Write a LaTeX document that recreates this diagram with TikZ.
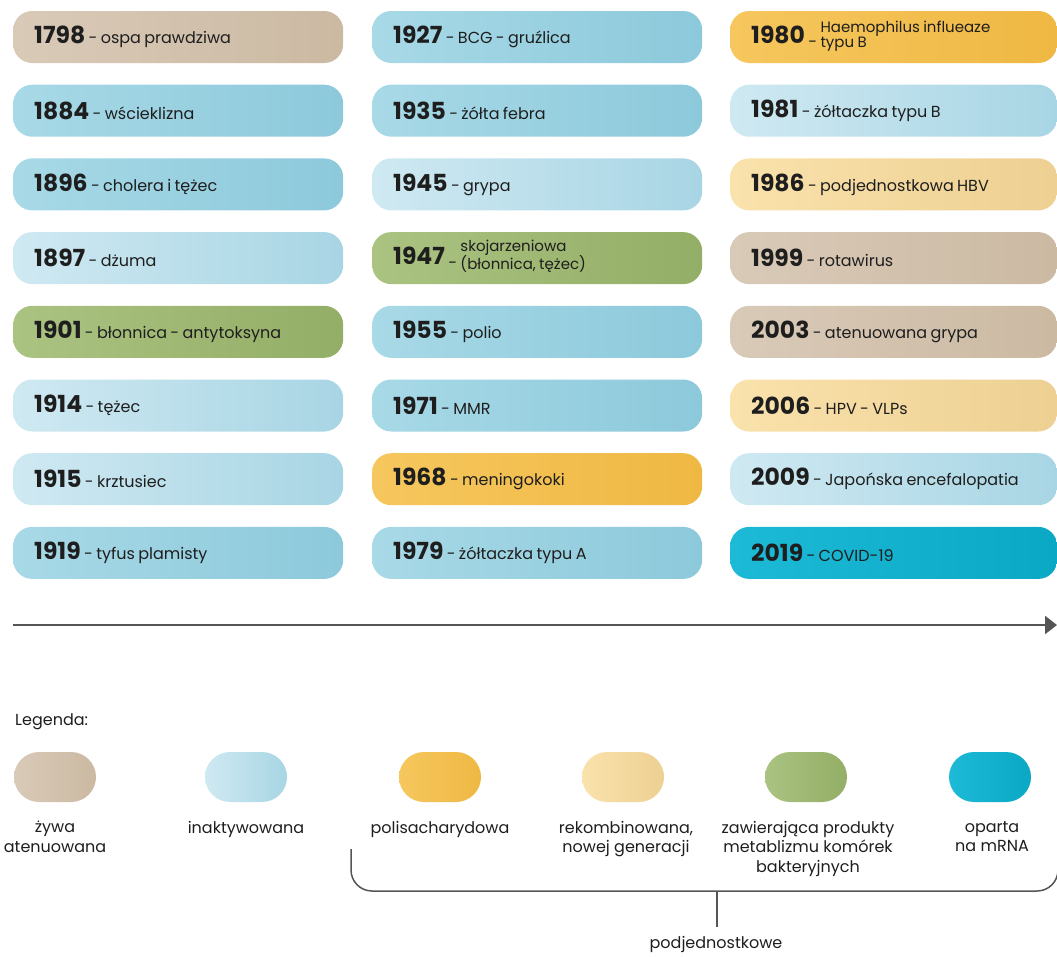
\documentclass[tikz,border=0pt]{standalone}
\usepackage{fontspec}
\setmainfont{Poppins}
\usetikzlibrary{arrows.meta}
\definecolor{tanL}{HTML}{D9CAB8}\definecolor{tanR}{HTML}{CBB9A2}
\definecolor{bmL}{HTML}{A8D9E7}\definecolor{bmR}{HTML}{8CC9DB}
\definecolor{blL}{HTML}{CFE9F2}\definecolor{blR}{HTML}{A8D5E4}
\definecolor{yeL}{HTML}{F6C75E}\definecolor{yeR}{HTML}{EFB843}
\definecolor{crL}{HTML}{FAE2AC}\definecolor{crR}{HTML}{EDD092}
\definecolor{grL}{HTML}{ABC381}\definecolor{grR}{HTML}{93AE67}
\definecolor{teL}{HTML}{1CBAD6}\definecolor{teR}{HTML}{0AA8C5}
\definecolor{txt}{HTML}{1E1E1E}
\definecolor{ln}{HTML}{555555}
\newcommand\yr[1]{{\fontsize{23.5}{23.5}\selectfont\bfseries #1}}
\newcommand\ds[1]{{\fontsize{16}{18}\selectfont #1}}
\newcommand\dsh{{\fontsize{16}{18}\selectfont\raisebox{-4pt}{-}}}
\newcommand\dtwo[2]{{\fontsize{15}{14}\selectfont\smash{\raisebox{4pt}{\begin{tabular}[c]{@{}l@{}}#1\\#2\end{tabular}}}}}
\tikzset{
  pill/.style={anchor=west, minimum height=52pt, rounded corners=19pt, inner xsep=21pt, inner ysep=0pt, text width=288pt, align=left, text=txt},
  pillc/.style={pill, text width=285pt},
  tan/.style={left color=tanL, right color=tanR},
  bm/.style={left color=bmL, right color=bmR},
  bl/.style={left color=blL, right color=blR},
  ye/.style={left color=yeL, right color=yeR},
  cr/.style={left color=crL, right color=crR},
  gr/.style={left color=grL, right color=grR},
  te/.style={left color=teL, right color=teR},
  leg/.style={minimum width=82pt, minimum height=50pt, rounded corners=25pt, inner sep=0pt},
  legtxt/.style={anchor=north, align=center, inner sep=0pt, text=txt, font=\fontsize{16}{19.5}\selectfont},
  connector/.style={draw=ln, line width=1.5pt},
}
\begin{document}
\begin{tikzpicture}[x=1pt,y=-1pt]
\useasboundingbox (0,0) rectangle (1057,956);
% column 1
\node[pill,tan] (p1798) at (13,37) {\yr{1798} \ds{- ospa prawdziwa}};
\node[pill,bm] (p1884) at (13,110.7) {\yr{1884} \ds{- wścieklizna}};
\node[pill,bm] (p1896) at (13,184.4) {\yr{1896} \ds{- cholera i tężec}};
\node[pill,bl] (p1897) at (13,258.1) {\yr{1897} \ds{- dżuma}};
\node[pill,gr] (p1901) at (13,331.8) {\yr{1901} \ds{- błonnica - antytoksyna}};
\node[pill,bl] (p1914) at (13,405.5) {\yr{1914} \ds{- tężec}};
\node[pill,bl] (p1915) at (13,479.2) {\yr{1915} \ds{- krztusiec}};
\node[pill,bm] (p1919) at (13,552.9) {\yr{1919} \ds{- tyfus plamisty}};
% column 2
\node[pill,bm] (p1927) at (372,37) {\yr{1927} \ds{- BCG - gruźlica}};
\node[pill,bm] (p1935) at (372,110.7) {\yr{1935} \ds{- żółta febra}};
\node[pill,bl] (p1945) at (372,184.4) {\yr{1945} \ds{- grypa}};
\node[pill,gr] (p1947) at (372,258.1) {\yr{1947} \dsh\ \dtwo{skojarzeniowa}{(błonnica, tężec)}};
\node[pill,bm] (p1955) at (372,331.8) {\yr{1955} \ds{- polio}};
\node[pill,bm] (p1971) at (372,405.5) {\yr{1971} \ds{- MMR}};
\node[pill,ye] (p1968) at (372,479.2) {\yr{1968} \ds{- meningokoki}};
\node[pill,bm] (p1979) at (372,552.9) {\yr{1979} \ds{- żółtaczka typu A}};
% column 3
\node[pillc,ye] (p1980) at (730,37) {\yr{1980} \dsh\ \dtwo{Haemophilus influeaze}{typu B}};
\node[pillc,bl] (p1981) at (730,110.7) {\yr{1981} \ds{- żółtaczka typu B}};
\node[pillc,cr] (p1986) at (730,184.4) {\yr{1986} \ds{- podjednostkowa HBV}};
\node[pillc,tan] (p1999) at (730,258.1) {\yr{1999} \ds{- rotawirus}};
\node[pillc,tan] (p2003) at (730,331.8) {\yr{2003} \ds{- atenuowana grypa}};
\node[pillc,cr] (p2006) at (730,405.5) {\yr{2006} \ds{- HPV - VLPs}};
\node[pillc,bl] (p2009) at (730,479.2) {\yr{2009} \ds{- Japońska encefalopatia}};
\node[pillc,te] (p2019) at (730,552.9) {\yr{2019} \ds{- COVID-19}};
% timeline
\coordinate (t0) at (13,625);
\coordinate (t1) at (1057,625);
\draw[draw=ln, line width=2.2pt, -{Triangle[length=12pt,width=18pt]}] (t0) -- (t1);
% legend
\node[anchor=west, inner sep=0pt, text=txt, font=\fontsize{16}{19}\selectfont] (legtitle) at (15,722) {Legenda:};
\node[leg,tan] (l1) at (55,777) {};
\node[leg,bl] (l2) at (246,777) {};
\node[leg,ye] (l3) at (440,777) {};
\node[leg,cr] (l4) at (623,777) {};
\node[leg,gr] (l5) at (806,777) {};
\node[leg,te] (l6) at (990,777) {};
\node[legtxt] (lt1) at (55,821) {żywa\\atenuowana};
\node[legtxt] (lt2) at (246,821) {inaktywowana};
\node[legtxt] (lt3) at (440,821) {polisacharydowa};
\node[legtxt] (lt4) at (626,821) {rekombinowana,\\nowej generacji};
\node[legtxt] (lt5) at (808,821) {zawierająca produkty\\metablizmu komórek\\bakteryjnych};
\node[legtxt] (lt6) at (992,821) {oparta\\na mRNA};
% brace
\coordinate (b1) at (351,849);
\coordinate (b2) at (1058,891);
\coordinate (b3) at (1058,860);
\draw[connector, rounded corners=21pt] (b1) |- (b2) -- (b3);
\coordinate (s0) at (717,891);
\coordinate (s1) at (717,927);
\draw[connector] (s0) -- (s1);
\node[inner sep=0pt, text=txt, font=\fontsize{16}{19}\selectfont] (podj) at (716,944) {podjednostkowe};
\end{tikzpicture}
\end{document}
